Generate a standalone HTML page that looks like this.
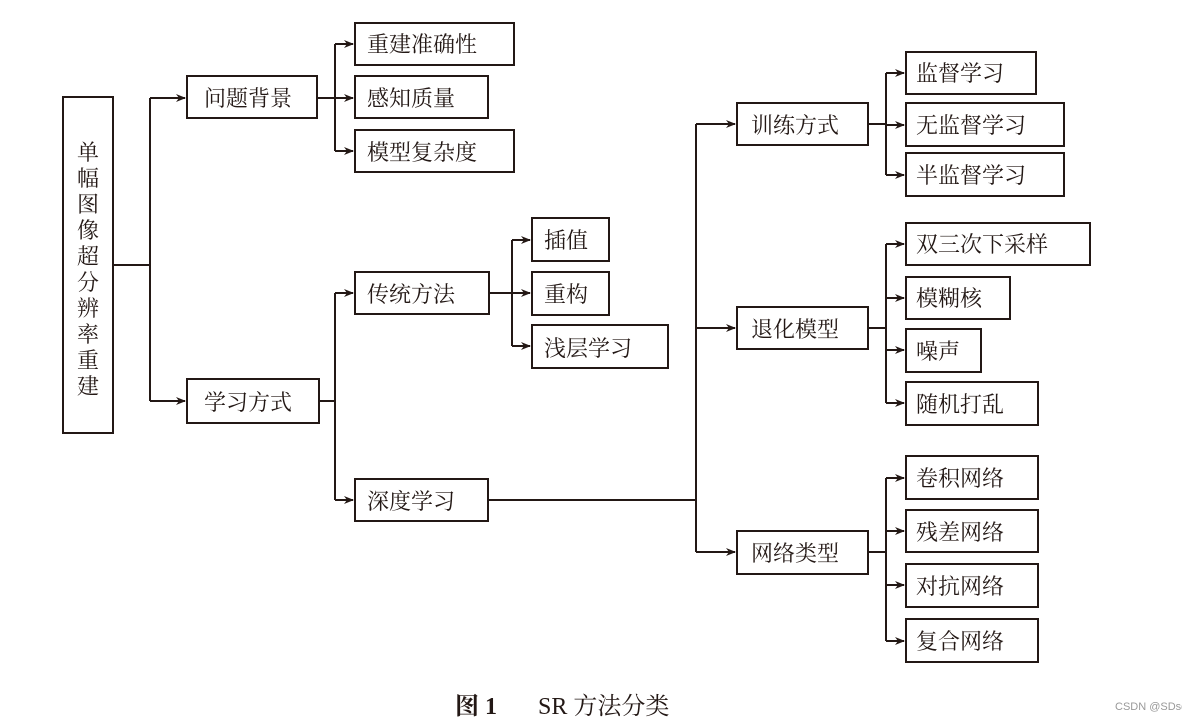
<!DOCTYPE html>
<html><head><meta charset="utf-8"><style>
html,body{margin:0;padding:0;background:#fff;}
svg{display:block;}
text{font-family:"Liberation Serif","Noto Serif CJK SC",serif;font-size:22px;fill:#231815;}
</style></head><body>
<svg width="1182" height="722" viewBox="0 0 1182 722" xmlns="http://www.w3.org/2000/svg">
<defs><marker id="a" markerWidth="10" markerHeight="8" refX="9" refY="4" orient="auto" markerUnits="userSpaceOnUse"><path d="M0,0 L10,4 L0,8 L3,4 Z" fill="#231815"/></marker></defs>
<g fill="none" stroke="#231815" stroke-width="2">
<!-- boxes -->
<rect x="63" y="97" width="50" height="336"/>
<rect x="187" y="76" width="130" height="42"/>
<rect x="187" y="379" width="132" height="44"/>
<rect x="355" y="23" width="159" height="42"/>
<rect x="355" y="76" width="133" height="42"/>
<rect x="355" y="130" width="159" height="42"/>
<rect x="355" y="272" width="134" height="42"/>
<rect x="355" y="479" width="133" height="42"/>
<rect x="532" y="218" width="77" height="43"/>
<rect x="532" y="272" width="77" height="43"/>
<rect x="532" y="325" width="136" height="43"/>
<rect x="737" y="103" width="131" height="42"/>
<rect x="737" y="307" width="131" height="42"/>
<rect x="737" y="531" width="131" height="43"/>
<rect x="906" y="52" width="130" height="42"/>
<rect x="906" y="103" width="158" height="43"/>
<rect x="906" y="153" width="158" height="43"/>
<rect x="906" y="223" width="184" height="42"/>
<rect x="906" y="277" width="104" height="42"/>
<rect x="906" y="329" width="75" height="43"/>
<rect x="906" y="382" width="132" height="43"/>
<rect x="906" y="456" width="132" height="43"/>
<rect x="906" y="510" width="132" height="42"/>
<rect x="906" y="564" width="132" height="43"/>
<rect x="906" y="619" width="132" height="43"/>
<!-- connectors -->
<path d="M113,265 H150 M150,98 V401"/>
<path d="M150,98 H185" marker-end="url(#a)"/>
<path d="M150,401 H185" marker-end="url(#a)"/>
<path d="M317,98 H335 M335,44 V151"/>
<path d="M335,44 H353" marker-end="url(#a)"/>
<path d="M335,98 H353" marker-end="url(#a)"/>
<path d="M335,151 H353" marker-end="url(#a)"/>
<path d="M319,401 H335 M335,293 V500"/>
<path d="M335,293 H353" marker-end="url(#a)"/>
<path d="M335,500 H353" marker-end="url(#a)"/>
<path d="M489,293 H512 M512,240 V346"/>
<path d="M512,240 H530" marker-end="url(#a)"/>
<path d="M512,293 H530" marker-end="url(#a)"/>
<path d="M512,346 H530" marker-end="url(#a)"/>
<path d="M488,500 H696 M696,124 V552"/>
<path d="M696,124 H735" marker-end="url(#a)"/>
<path d="M696,328 H735" marker-end="url(#a)"/>
<path d="M696,552 H735" marker-end="url(#a)"/>
<path d="M868,124 H886 M886,73 V175"/>
<path d="M886,73 H904" marker-end="url(#a)"/>
<path d="M886,125 H904" marker-end="url(#a)"/>
<path d="M886,175 H904" marker-end="url(#a)"/>
<path d="M868,328 H886 M886,244 V403"/>
<path d="M886,244 H904" marker-end="url(#a)"/>
<path d="M886,298 H904" marker-end="url(#a)"/>
<path d="M886,350 H904" marker-end="url(#a)"/>
<path d="M886,403 H904" marker-end="url(#a)"/>
<path d="M868,552 H886 M886,478 V641"/>
<path d="M886,478 H904" marker-end="url(#a)"/>
<path d="M886,531 H904" marker-end="url(#a)"/>
<path d="M886,585 H904" marker-end="url(#a)"/>
<path d="M886,641 H904" marker-end="url(#a)"/>
</g>
<g>
<text x="88" y="160" text-anchor="middle">单</text>
<text x="88" y="186" text-anchor="middle">幅</text>
<text x="88" y="212" text-anchor="middle">图</text>
<text x="88" y="238" text-anchor="middle">像</text>
<text x="88" y="264" text-anchor="middle">超</text>
<text x="88" y="290" text-anchor="middle">分</text>
<text x="88" y="316" text-anchor="middle">辨</text>
<text x="88" y="342" text-anchor="middle">率</text>
<text x="88" y="368" text-anchor="middle">重</text>
<text x="88" y="394" text-anchor="middle">建</text>
<text x="204" y="106">问题背景</text>
<text x="204" y="410">学习方式</text>
<text x="367" y="52">重建准确性</text>
<text x="367" y="106">感知质量</text>
<text x="367" y="160">模型复杂度</text>
<text x="367" y="302">传统方法</text>
<text x="367" y="509">深度学习</text>
<text x="544" y="248">插值</text>
<text x="544" y="302">重构</text>
<text x="544" y="356">浅层学习</text>
<text x="751" y="133">训练方式</text>
<text x="751" y="337">退化模型</text>
<text x="751" y="561">网络类型</text>
<text x="916" y="81">监督学习</text>
<text x="916" y="133">无监督学习</text>
<text x="916" y="183">半监督学习</text>
<text x="916" y="252">双三次下采样</text>
<text x="916" y="306">模糊核</text>
<text x="916" y="359">噪声</text>
<text x="916" y="412">随机打乱</text>
<text x="916" y="486">卷积网络</text>
<text x="916" y="540">残差网络</text>
<text x="916" y="594">对抗网络</text>
<text x="916" y="649">复合网络</text>
<text x="455" y="714" style="font-weight:bold;font-size:24px">图 1</text>
<text x="538" y="714" style="font-size:24px">SR 方法分类</text>
<text x="1115" y="710" style="font-family:'Liberation Sans',sans-serif;font-size:11px;fill:#999">CSDN @SDsqx6</text>
</g>
</svg>
</body></html>
